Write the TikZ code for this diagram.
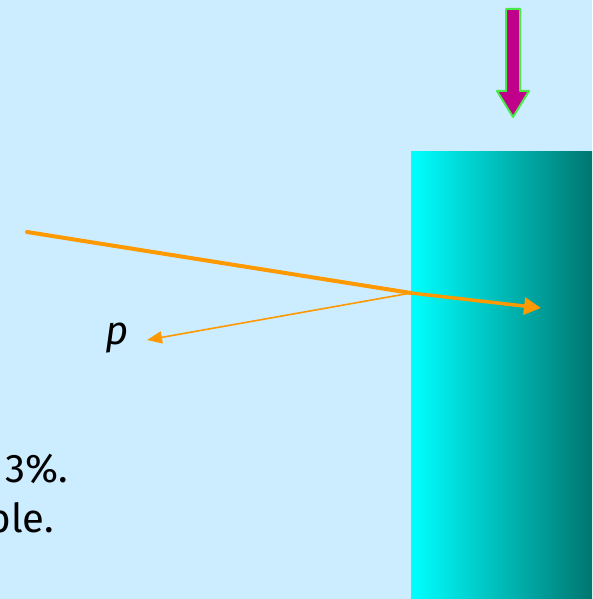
\documentclass[tikz,border=0pt]{standalone}
\usepackage{fontspec}
\newfontfamily\slidefont{Fira Sans}
\usetikzlibrary{arrows.meta}
\definecolor{skyback}{RGB}{204,236,255}
\definecolor{rayorange}{RGB}{255,153,0}
\definecolor{slabdark}{RGB}{0,118,112}
\definecolor{pushmagenta}{RGB}{192,0,138}
\definecolor{edgegreen}{RGB}{70,235,70}

\begin{document}
\begin{tikzpicture}[x=1pt,y=-1pt,
    ray/.style={rayorange,line cap=round},
    slidetext/.style={inner sep=0pt,font=\slidefont\fontsize{40}{48}\selectfont}]
            \fill[skyback] (0,0) rectangle (592,599);                       % Background
            \useasboundingbox (0,0) rectangle (592,599);
            \clip (0,0) rectangle (592,599);
            \shade[left color=cyan,right color=slabdark] (411,151) rectangle (592,599); % Slab
            \draw[edgegreen,line width=2pt,fill=pushmagenta,line join=round]  % Push arrow
                (506,9)--(520,9)--(520,91)--(529,91)--(513,117)--(497,91)--(506,91)--cycle;
            \coordinate (src) at (27,232);                                   % Start of ray
            \coordinate (hit) at (411,293);                                  % Point on the surface
            \coordinate (trans) at (541,308);                                % Refracted end
            \coordinate (refl) at (147,340);                                 % Reflected end
            \draw[ray,line width=4pt] (src)--(hit);
            \draw[ray,line width=3.5pt,-{Triangle[length=17pt,width=17pt]}] (hit)--(trans);
            \draw[ray,line width=1.6pt,-{Triangle[length=15pt,width=12pt]}] (hit)--(refl);
            \node[slidetext] (plabel) at (117,338) {\itshape p};             % Label p
            \node[slidetext,anchor=base west] (ratio) at (5,482) {3\%.};
            \node[slidetext,anchor=base east] (tail) at (54,532) {ble.};
        \end{tikzpicture}
\end{document}
